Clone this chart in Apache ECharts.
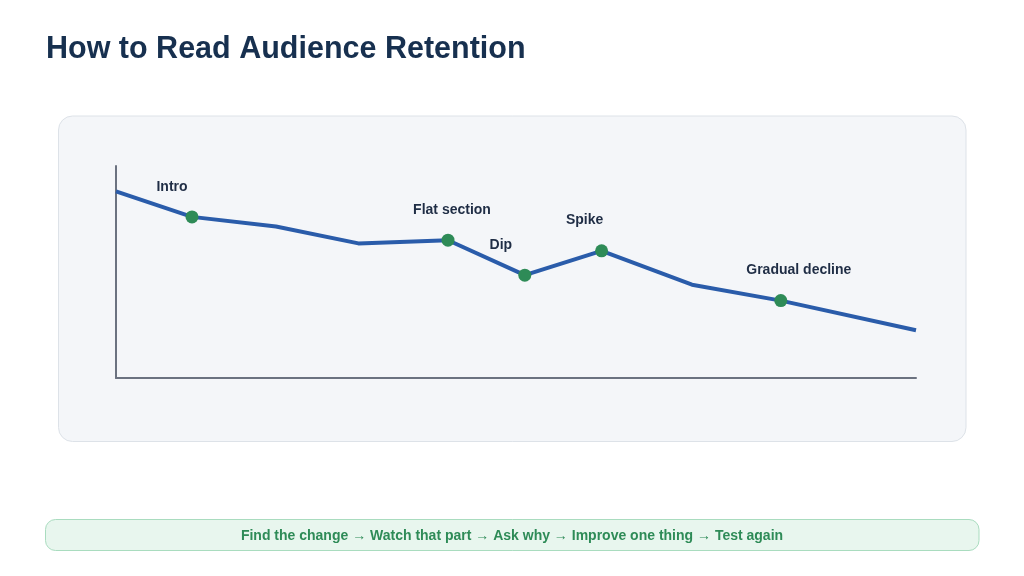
<!DOCTYPE html>
<html>
<head>
<meta charset="utf-8">
<script src="https://cdn.jsdelivr.net/npm/echarts@6/dist/echarts.min.js"></script>
<style>
html,body{margin:0;padding:0;background:#ffffff;}
#chart{width:1024px;height:576px;}
</style>
</head>
<body>
<div id="chart"></div>
<script>
// Data
const titleText = 'How to Read Audience Retention';
const footerText = 'Find the change \u2192 Watch that part \u2192 Ask why \u2192 Improve one thing \u2192 Test again';
const timePct = [0, 9.5, 20, 30.3, 41.5, 51.1, 60.7, 72, 83.1, 100];
const retention = [88, 76, 71.5, 63.5, 65, 48.5, 60, 44, 36.5, 22.5];
const markerIndex = [1, 4, 5, 6, 8];
const markerLabels = ['Intro', 'Flat section', 'Dip', 'Spike', 'Gradual decline'];
const labelOffsets = [[-20, -30], [4, -30], [-24, -30], [-17, -31], [18, -30]];

const chart = echarts.init(document.getElementById('chart'));
const font = "'Liberation Sans', Arial, sans-serif";

const lineData = timePct.map((x, i) => [x, retention[i]]);
const markerData = markerIndex.map((idx, k) => ({
  value: [timePct[idx], retention[idx]],
  label: { formatter: markerLabels[k], offset: labelOffsets[k] }
}));

chart.setOption({
  animation: false,
  backgroundColor: '#ffffff',
  title: {
    text: titleText,
    left: 41,
    top: 29,
    textStyle: { fontFamily: font, fontSize: 30.5, fontWeight: 'bold', color: '#17304f' }
  },
  graphic: [
    {
      type: 'rect', z: -10, silent: true,
      shape: { x: 58.5, y: 116, width: 907.5, height: 325.5, r: 14 },
      style: { fill: '#f4f6f9', stroke: '#dde2e8', lineWidth: 1 }
    },
    {
      type: 'rect', z: -10, silent: true,
      shape: { x: 45.5, y: 519.5, width: 933.5, height: 31, r: 10 },
      style: { fill: '#e8f6ee', stroke: '#a9dcbf', lineWidth: 1 }
    },
    {
      type: 'text', silent: true,
      x: 512, y: 536,
      style: {
        text: footerText, align: 'center', verticalAlign: 'middle',
        font: "bold 14px 'Liberation Sans', Arial, sans-serif", fill: '#2e8b57'
      }
    }
  ],
  grid: { left: 116, right: 108, top: 166, bottom: 198 },
  xAxis: {
    type: 'value', min: 0, max: 100,
    axisLine: { show: true, lineStyle: { color: '#6b7280', width: 2 } },
    axisTick: { show: false }, axisLabel: { show: false }, splitLine: { show: false }
  },
  yAxis: {
    type: 'value', min: 0, max: 100,
    axisLine: { show: true, onZero: false, lineStyle: { color: '#6b7280', width: 2 } },
    axisTick: { show: false }, axisLabel: { show: false }, splitLine: { show: false }
  },
  series: [
    {
      type: 'line', data: lineData, symbol: 'none', smooth: false,
      lineStyle: { color: '#2a5caa', width: 4 }, z: 2
    },
    {
      type: 'scatter', data: markerData, symbolSize: 13,
      itemStyle: { color: '#2e8b57', opacity: 1 }, z: 3,
      label: {
        show: true, position: 'inside',
        fontFamily: font, fontSize: 14, fontWeight: 'bold', color: '#1f2d45'
      }
    }
  ]
});
</script>
</body>
</html>
